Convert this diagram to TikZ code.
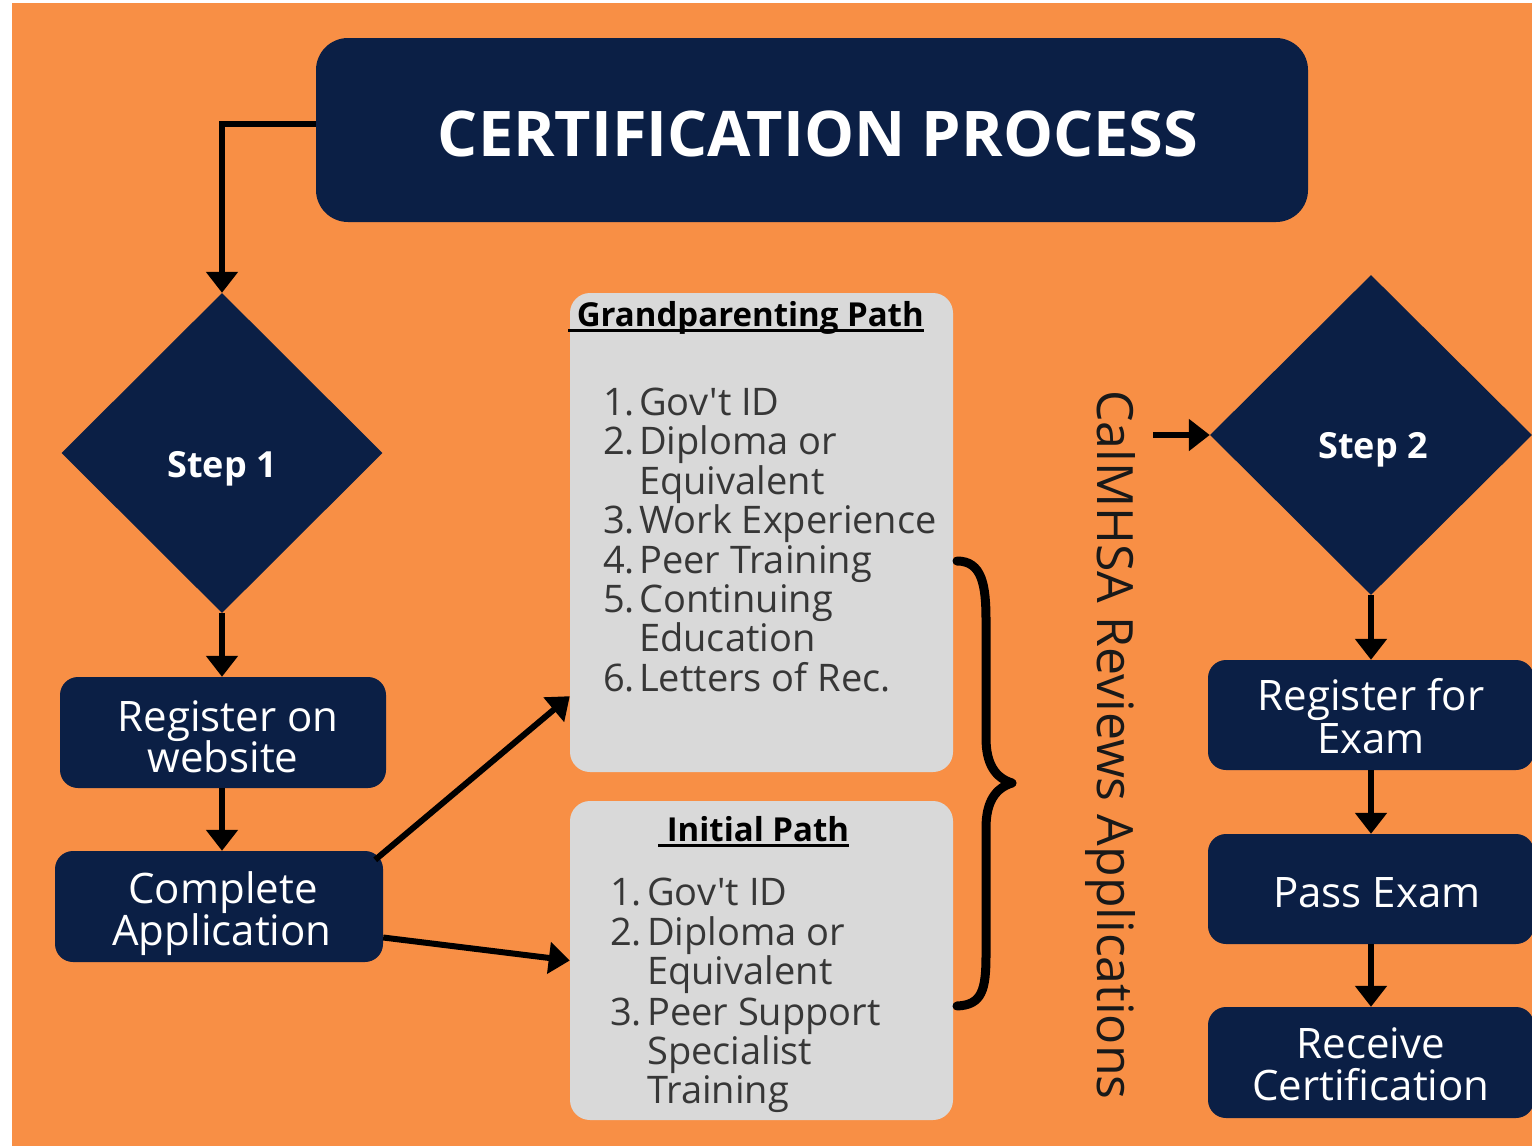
\documentclass[tikz,border=0pt]{standalone}
\usepackage{fontspec}
\setmainfont{Open Sans}[Ligatures=TeXOff]
\usetikzlibrary{shapes.geometric,arrows.meta,calc}
\definecolor{bgorange}{RGB}{248,143,69}
\definecolor{navy}{RGB}{11,31,69}
\definecolor{panel}{RGB}{217,217,217}
\definecolor{listtext}{RGB}{55,55,55}
\definecolor{darktext}{RGB}{25,25,25}
\newcommand\ulpath[1]{\setbox0\hbox{#1}\rlap{\rule[-0.19em]{\wd0}{0.09em}}\box0}
\begin{document}
\begin{tikzpicture}[x=1pt,y=-1pt,
  navybox/.style={fill=navy, rounded corners=18pt, inner sep=0pt},
  panelbox/.style={fill=panel, rounded corners=20pt, inner sep=0pt},
  stepdia/.style={diamond, fill=navy, inner sep=0pt, aspect=1},
  boxtext/.style={anchor=base, text=white, inner sep=0pt, font=\fontsize{42}{42}\selectfont},
  steptext/.style={anchor=base, text=white, inner sep=0pt, font=\fontsize{36}{36}\selectfont\bfseries},
  item/.style={anchor=base west, text=listtext, inner sep=0pt, font=\fontsize{38}{38}\selectfont},
  ptitle/.style={anchor=base west, text=black, inner sep=0pt, font=\fontsize{33}{33}\selectfont\bfseries},
  arr/.style={line width=6pt, -{Triangle[width=31pt,length=21pt]}}
]
\useasboundingbox (0,0) rectangle (1532,1146);
\fill[white] (0,0) rectangle (1532,1146);
\fill[bgorange] (12,3) rectangle (1532,1146);

% title
\node[fill=navy, rounded corners=32pt, inner sep=0pt, minimum width=992pt, minimum height=184pt] (title) at (812,130) {};
\node[anchor=base, text=white, inner sep=0pt, font=\fontsize{63}{63}\selectfont\bfseries] (titletext) at (818,156) {CERTIFICATION PROCESS};

% step 1 column
\node[stepdia, minimum width=321pt, minimum height=320pt] (s1) at (222,453) {};
\node[steptext] (s1t) at (222,477) {Step 1};
\node[navybox, minimum width=326pt, minimum height=111pt] (reg) at (223,732.5) {};
\node[boxtext] (reg1) at (228,731) {Register on};
\node[boxtext] (reg2) at (223,772) {website};
\node[navybox, minimum width=328pt, minimum height=111pt] (comp) at (219,906.5) {};
\node[boxtext] (comp1) at (223,903) {Complete};
\node[boxtext] (comp2) at (222,945) {Application};

% panels
\node[panelbox, minimum width=383pt, minimum height=479pt] (gp) at (761.5,532.5) {};
\node[ptitle] (gpt) at (568,326) {\ulpath{\ Grandparenting Path}};
\node[item] (g1) at (603,415) {\makebox[36pt][l]{1.}Gov't ID};
\node[item] (g2) at (603,454) {\makebox[36pt][l]{2.}Diploma or};
\node[item] (g2b) at (639,494) {Equivalent};
\node[item] (g3) at (603,533) {\makebox[36pt][l]{3.}Work Experience};
\node[item] (g4) at (603,573) {\makebox[36pt][l]{4.}Peer Training};
\node[item] (g5) at (603,612) {\makebox[36pt][l]{5.}Continuing};
\node[item] (g5b) at (639,651) {Education};
\node[item] (g6) at (603,691) {\makebox[36pt][l]{6.}Letters of Rec.};

\node[panelbox, minimum width=383pt, minimum height=319pt] (init) at (761.5,960.5) {};
\node[ptitle] (initt) at (658,841) {\ulpath{\ Initial Path}};
\node[item] (i1) at (610,905) {\makebox[37pt][l]{1.}Gov't ID};
\node[item] (i2) at (610,945) {\makebox[37pt][l]{2.}Diploma or};
\node[item] (i2b) at (647,984) {Equivalent};
\node[item] (i3) at (610,1025) {\makebox[37pt][l]{3.}Peer Support};
\node[item] (i3b) at (647,1064) {Specialist};
\node[item] (i3c) at (647,1103) {Training};

% brace
\draw[line width=9pt, line cap=round, line join=round] (957,561) .. controls (982,561) and (986,585) .. (986,620) -- (986,738) .. controls (986,765) and (996,778) .. (1012,783) .. controls (996,788) and (986,801) .. (986,828) -- (986,955) .. controls (986,990) and (982,1005) .. (957,1006);

% vertical text
\node[rotate=-90, anchor=base west, inner sep=0pt, text=darktext, font=\fontsize{50}{50}\selectfont] (rev) at (1097,390) {CalMHSA Reviews Applications};

% step 2 column
\node[stepdia, minimum width=322pt, minimum height=320pt] (s2) at (1371,435) {};
\node[steptext] (s2t) at (1373,458) {Step 2};
\node[navybox, minimum width=326pt, minimum height=110pt] (rex) at (1371,715) {};
\node[boxtext] (rex1) at (1371,710) {Register for};
\node[boxtext] (rex2) at (1371,753) {Exam};
\node[navybox, minimum width=326pt, minimum height=110pt] (pass) at (1371,889) {};
\node[boxtext] (pass1) at (1377,907) {Pass Exam};
\node[navybox, minimum width=326pt, minimum height=111pt] (recv) at (1371,1062.5) {};
\node[boxtext] (recv1) at (1371,1058) {Receive};
\node[boxtext] (recv2) at (1371,1100) {Certification};

% connectors
\draw[arr] ([yshift=6pt]title.west) -| (s1.north);
\draw[arr] (s1.south) -- (s1.south |- reg.north);
\draw[arr] (reg.south -| s1.south) -- (s1.south |- comp.north);
\draw[arr] ($(comp.north east)+(-8,9)$) -- ($(gp.south west)+(0,-76)$);
\draw[arr] ($(comp.east)+(0,31)$) -- (init.west);
\coordinate (revarrow) at (1153,435);
\draw[arr] (revarrow) -- (s2.west);
\draw[arr] (s2.south) -- (rex.north);
\draw[arr] (rex.south) -- (pass.north);
\draw[arr] (pass.south) -- (recv.north);
\end{tikzpicture}
\end{document}
